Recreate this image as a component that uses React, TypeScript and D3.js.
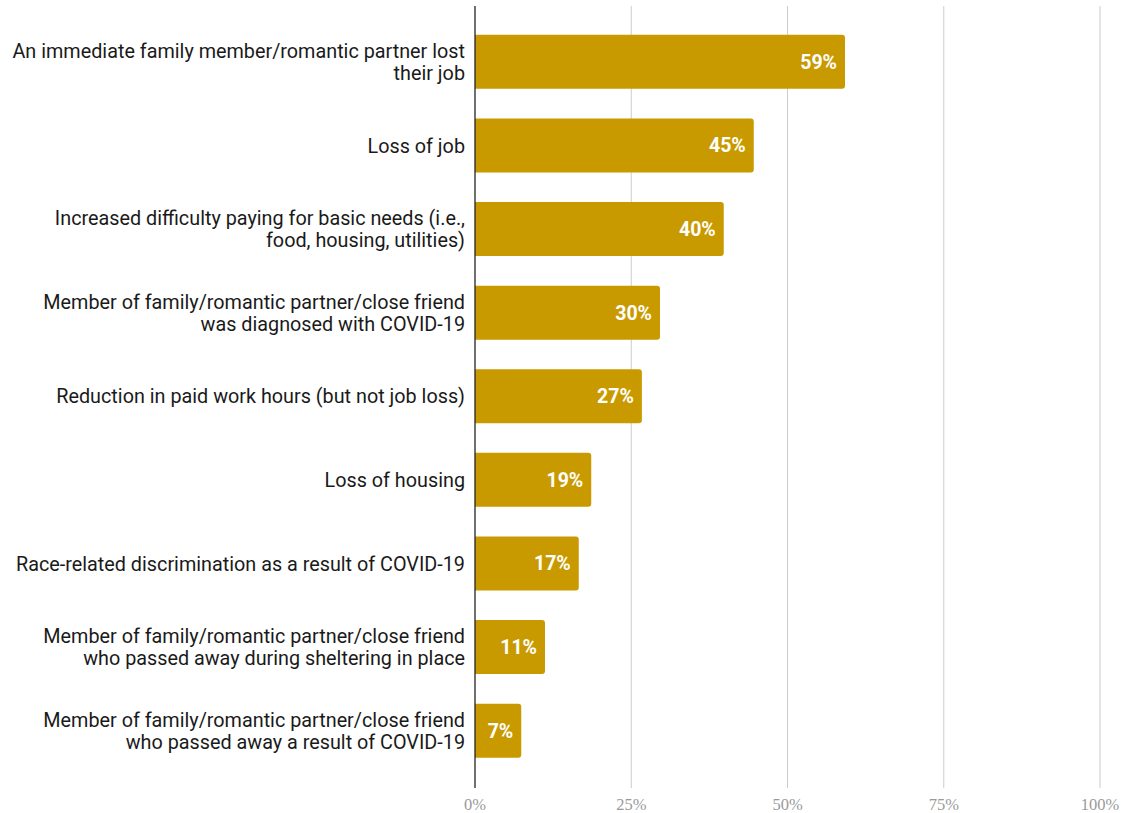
import React from "react";
import * as d3 from "d3";

const categories: string[][] = [
  ["An immediate family member/romantic partner lost", "their job"],
  ["Loss of job"],
  ["Increased difficulty paying for basic needs (i.e.,", "food, housing, utilities)"],
  ["Member of family/romantic partner/close friend", "was diagnosed with COVID-19"],
  ["Reduction in paid work hours (but not job loss)"],
  ["Loss of housing"],
  ["Race-related discrimination as a result of COVID-19"],
  ["Member of family/romantic partner/close friend", "who passed away during sheltering in place"],
  ["Member of family/romantic partner/close friend", "who passed away a result of COVID-19"],
];
const values: number[] = [59.2, 44.6, 39.8, 29.6, 26.7, 18.6, 16.6, 11.2, 7.4];
const valueLabels: string[] = ["59%", "45%", "40%", "30%", "27%", "19%", "17%", "11%", "7%"];
const ticks: number[] = [0, 25, 50, 75, 100];
const tickLabels: string[] = ["0%", "25%", "50%", "75%", "100%"];

const W = 1121;
const H = 813;
const BAR = "#C99A00";

export default function App() {
  const x = d3.scaleLinear().domain([0, 100]).range([475, 1100]);
  const idx = categories.map((_, i) => String(i));
  const y = d3
    .scaleBand<string>()
    .domain(idx)
    .range([20, 772.5])
    .paddingInner(0.354)
    .paddingOuter(0.177);
  const bw = y.bandwidth();
  const r = 3;
  const barPath = (v: number, i: number) => {
    const x0 = x(0);
    const x1 = x(v);
    const y0 = y(String(i))!;
    const y1 = y0 + bw;
    const p = d3.path();
    p.moveTo(x0, y0);
    p.lineTo(x1 - r, y0);
    p.quadraticCurveTo(x1, y0, x1, y0 + r);
    p.lineTo(x1, y1 - r);
    p.quadraticCurveTo(x1, y1, x1 - r, y1);
    p.lineTo(x0, y1);
    p.closePath();
    return p.toString();
  };
  const lh = 21.6;
  return (
    <svg
      width={W}
      height={H}
      style={{ position: "absolute", left: 0, top: 0, background: "#fff" }}
    >
      {ticks.slice(1).map((t) => (
        <line key={t} x1={x(t)} x2={x(t)} y1={6} y2={788} stroke="#cccccc" strokeWidth={1} />
      ))}
      {values.map((v, i) => (
        <path key={i} d={barPath(v, i)} fill={BAR} />
      ))}
      <line x1={x(0)} x2={x(0)} y1={6} y2={788} stroke="#222" strokeWidth={1.3} />
      {values.map((v, i) => (
        <text
          key={"v" + i}
          x={x(v) - 8}
          y={y(String(i))! + bw / 2}
          dy="0.36em"
          textAnchor="end"
          fill="#fff"
          fontFamily="Roboto"
          fontWeight={700}
          fontSize={19.5}
        >
          {valueLabels[i]}
        </text>
      ))}
      {categories.map((lines, i) => {
        const cy = y(String(i))! + bw / 2;
        const start = cy - ((lines.length - 1) * lh) / 2;
        return (
          <text
            key={"c" + i}
            textAnchor="end"
            fontFamily="Roboto"
            fontSize={19.8}
            fill="#1a1a1a"
          >
            {lines.map((l, j) => (
              <tspan key={j} x={465} y={start + j * lh} dy="0.36em">
                {l}
              </tspan>
            ))}
          </text>
        );
      })}
      {ticks.map((t, i) => (
        <text
          key={"t" + t}
          x={x(t)}
          y={810}
          textAnchor="middle"
          fontFamily="Liberation Serif"
          fontSize={16.5}
          fill="#9a9a9a"
        >
          {tickLabels[i]}
        </text>
      ))}
    </svg>
  );
}
